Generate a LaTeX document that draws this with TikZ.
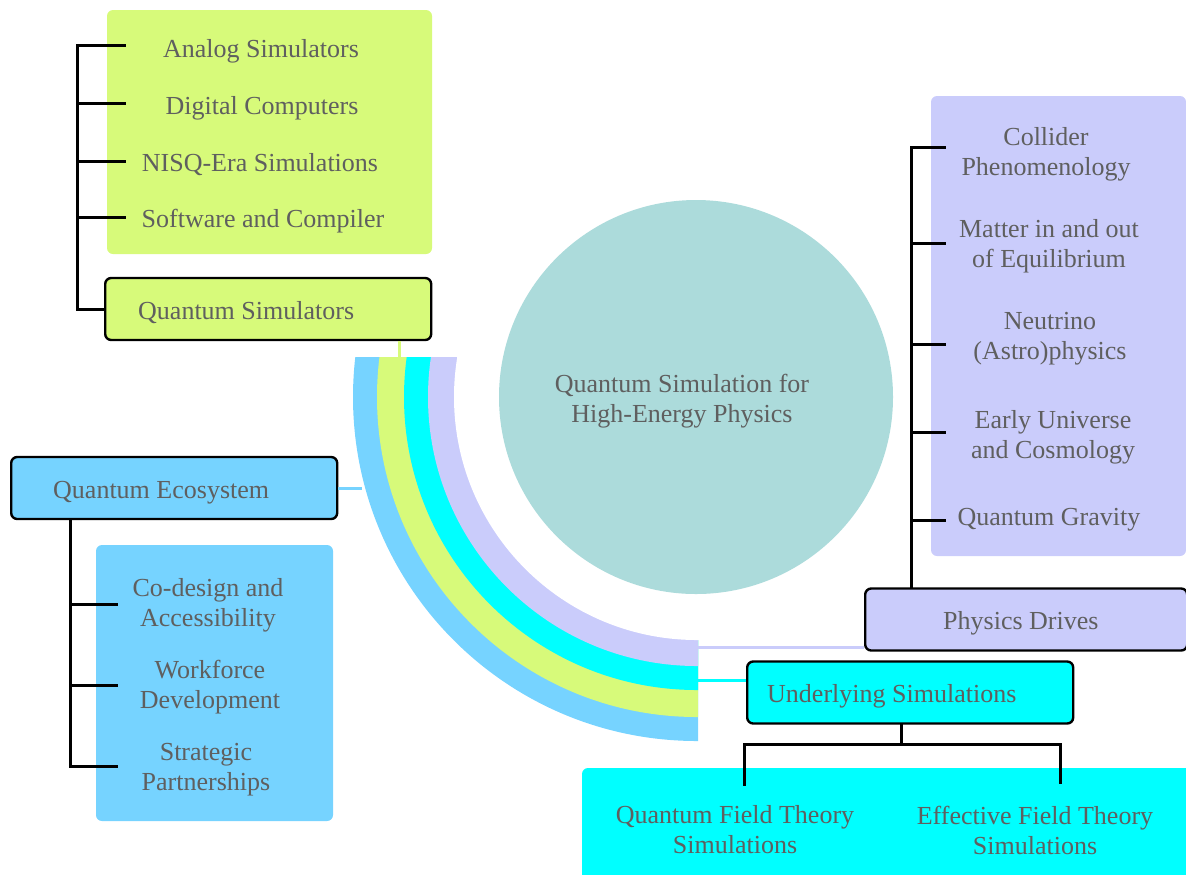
\documentclass[tikz,border=0pt]{standalone}
\usepackage{fontspec}
\setmainfont{Liberation Serif}
\usepackage{tikz}
\usetikzlibrary{positioning}
\definecolor{simcolor}{RGB}{215, 250, 122}
\definecolor{ecocolor}{RGB}{118, 211, 255}
\definecolor{undercolor}{RGB}{0, 255, 255}
\definecolor{physcolor}{RGB}{202, 204, 251}
\definecolor{hubcolor}{RGB}{172, 219, 219}
\definecolor{textgray}{RGB}{95, 95, 95}
\tikzstyle{head} = [rectangle, rounded corners=3pt, minimum height=31pt, text height=13pt, text depth=3pt, draw=black, line width=1.2pt, text=textgray, align=flush left, anchor=west]
\tikzstyle{item} = [text=textgray, align=center, inner sep=0pt, yshift=-1.5pt]
\tikzstyle{panel} = [rounded corners=3pt]
\tikzstyle{tree} = [line width=1.5pt, black]
\tikzstyle{link} = [line width=1.5pt]
\tikzstyle{hub} = [circle, fill=hubcolor, minimum size=197pt, inner sep=0pt]

\begin{document}
\begin{tikzpicture}[x=0.5pt, y=-0.5pt, font=\fontsize{13pt}{15pt}\selectfont]
\useasboundingbox (0,0) rectangle (1186,874);

% Panneaux
\fill [panel, simcolor] (107,10) rectangle (432,254);
\fill [panel, ecocolor] (96,545) rectangle (333,821);
\fill [panel, physcolor] (931,96) rectangle (1186,556);
\fill [panel, undercolor] (582,768) rectangle (1200,890);

% Anneaux
\begin{scope}
\clip (340,357) rectangle (698,760);
\fill [ecocolor] (697,397) circle (172pt);
\fill [simcolor] (697,397) circle (160pt);
\fill [undercolor] (697,397) circle (146.5pt);
\fill [physcolor] (697,397) circle (134.5pt);
\end{scope}
\begin{scope}
\clip (340,357) rectangle (760,760);
\fill [white] (697,397) circle (121.5pt);
\end{scope}

% Centre
\node (hub) [hub] at (696,397) {};
\node (hubtext) [item] at (682,398) {Quantum Simulation for\\High-Energy Physics};

% Branches
\node (qsim) [head, fill=simcolor, text width=130pt, inner xsep=16.5pt] at (104,309) {Quantum Simulators};
\node (qeco) [head, fill=ecocolor, text width=121pt, inner xsep=21pt] at (10,488) {Quantum Ecosystem};
\node (pdrive) [head, fill=physcolor, text width=83pt, inner xsep=39pt] at (864,619.5) {Physics Drives};
\node (usim) [head, fill=undercolor, text width=143pt, inner xsep=10pt] at (746,692.5) {Underlying Simulations};

% Feuilles
\node (anasim) [item] at (261,48) {Analog Simulators};
\node (digcomp) [item] at (262,105) {Digital Computers};
\node (nisq) [item] at (260,162) {NISQ-Era Simulations};
\node (software) [item] at (263,218) {Software and Compiler};

\node (codesign) [item] at (208,602) {Co-design and\\Accessibility};
\node (workforce) [item] at (210,684) {Workforce\\Development};
\node (partner) [item] at (206,767) {Strategic\\Partnerships};

\node (collider) [item] at (1046,151) {Collider\\Phenomenology};
\node (matter) [item] at (1049,243) {Matter in and out\\of Equilibrium};
\node (neutrino) [item] at (1050,336) {Neutrino\\(Astro)physics};
\node (early) [item] at (1053,434) {Early Universe\\and Cosmology};
\node (qgrav) [item] at (1049,517) {Quantum Gravity};

\node (qft) [item] at (735,827) {Quantum Field Theory\\Simulations};
\node (eft) [item] at (1035,827) {Effective Field Theory\\Simulations};

% Liens vers les anneaux
\coordinate (ringsim) at (399,357);
\coordinate (ringeco) at (362,488);
\coordinate (ringphys) at (698,647);
\coordinate (ringunder) at (698,680);
\draw [link, simcolor] (qsim.south -| ringsim) -- (ringsim);
\draw [link, ecocolor] (qeco.east) -- (ringeco);
\draw [link, physcolor] (ringphys) -- (pdrive.west |- ringphys);
\draw [link, undercolor] (ringunder) -- (usim.west |- ringunder);

% Arbre : simulateurs
\coordinate (qsspine) at (77,309);
\coordinate (qsa) at (126,45);
\coordinate (qsb) at (126,103);
\coordinate (qsc) at (126,161);
\coordinate (qsd) at (126,217);
\draw [tree] (qsim.west) -- (qsspine) |- (qsa);
\foreach \n in {b,c,d}
  \draw [tree] (qsspine |- qs\n) -- (qs\n);

% Arbre : ecosysteme
\coordinate (qespine) at (70,519);
\coordinate (qea) at (118,604);
\coordinate (qeb) at (118,685);
\coordinate (qec) at (118,766);
\draw [tree] (qespine) |- (qec);
\foreach \n in {a,b}
  \draw [tree] (qespine |- qe\n) -- (qe\n);

% Arbre : physique
\coordinate (pdspine) at (911,589);
\coordinate (pda) at (946,147);
\coordinate (pdb) at (946,243);
\coordinate (pdc) at (946,344);
\coordinate (pdd) at (946,432);
\coordinate (pde) at (946,520);
\draw [tree] (pdspine) |- (pda);
\foreach \n in {b,c,d,e}
  \draw [tree] (pdspine |- pd\n) -- (pd\n);

% Arbre : simulations
\coordinate (usspine) at (901,723);
\coordinate (usmid) at (901,744);
\coordinate (qftc) at (744,786);
\coordinate (eftc) at (1060,784);
\draw [tree] (usspine) -- (usmid) -| (qftc);
\draw [tree] (usmid) -| (eftc);

\end{tikzpicture}
\end{document}
